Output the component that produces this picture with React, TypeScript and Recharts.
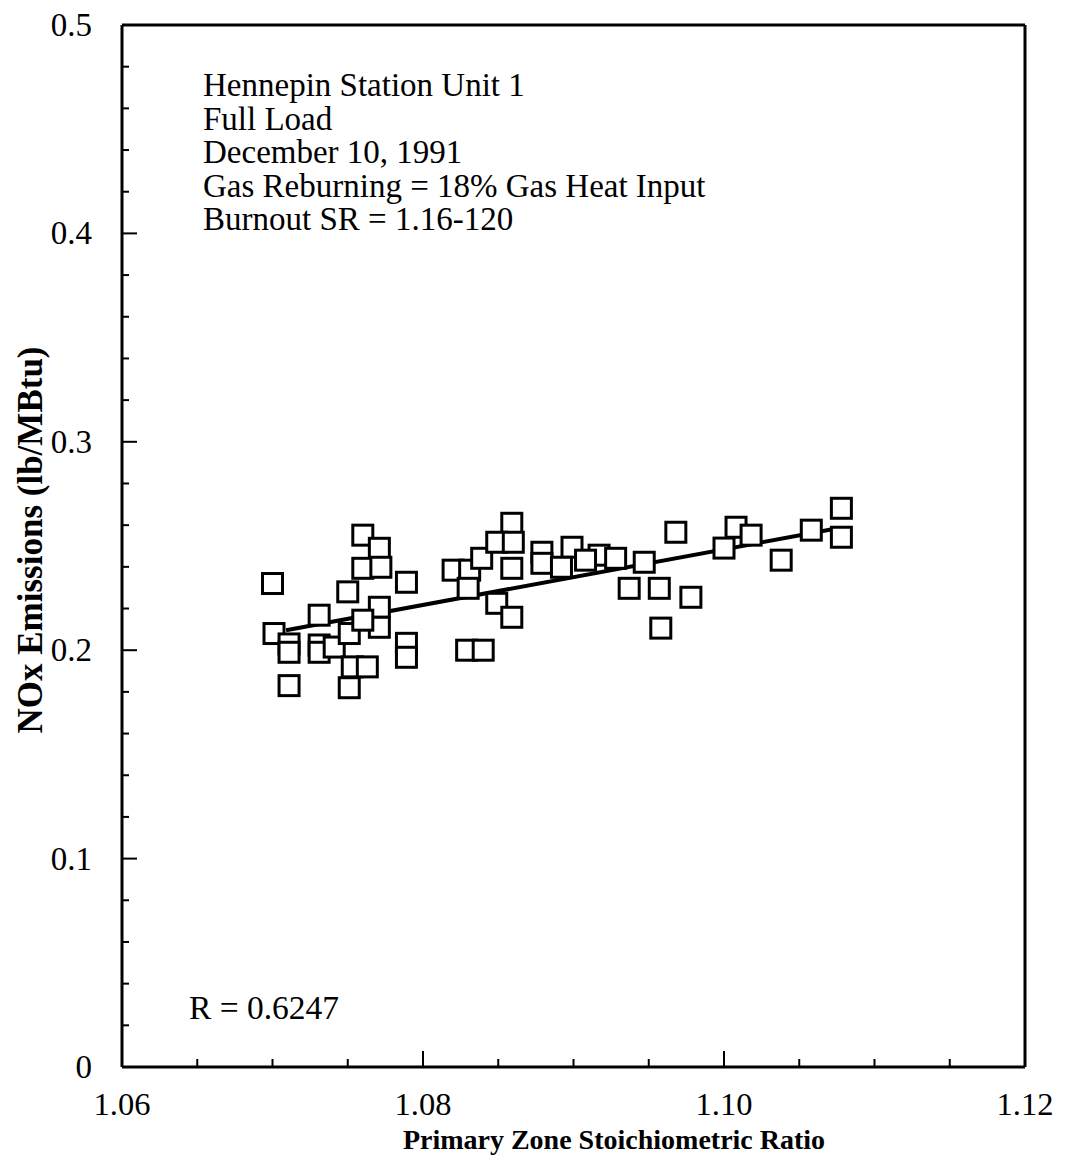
import React from "react"
import { ScatterChart, Scatter, XAxis, YAxis, ReferenceLine, Label } from "recharts"

// primary zone stoichiometric ratio (x) and NOx emissions lb/MBtu (y)
const stoichRatio = [
  1.07, 1.0701, 1.0711, 1.0711, 1.0731, 1.0731, 1.0741, 1.0751, 1.0753, 1.0763,
  1.0751, 1.0711, 1.075, 1.076, 1.0771, 1.076, 1.0772, 1.0771, 1.0771, 1.076,
  1.0731, 1.0789, 1.0789, 1.0789, 1.082, 1.0831, 1.083, 1.0839, 1.0859, 1.0849,
  1.086, 1.0859, 1.0879, 1.0879, 1.0849, 1.0859, 1.0829, 1.084, 1.0899, 1.0917,
  1.0892, 1.0908, 1.0928, 1.0947, 1.0968, 1.0937, 1.0957, 1.0978, 1.0958, 1.1,
  1.1008, 1.1018, 1.1038, 1.1058, 1.1078, 1.1078,
]
const noxEmission = [
  0.232, 0.208, 0.203, 0.199, 0.2025, 0.199, 0.2015, 0.208, 0.192, 0.192,
  0.182, 0.183, 0.228, 0.2552, 0.2489, 0.2393, 0.2398, 0.2206, 0.211, 0.2144,
  0.2168, 0.2326, 0.2033, 0.1966, 0.2384, 0.2384, 0.2297, 0.2441, 0.2609, 0.2518,
  0.2518, 0.2393, 0.247, 0.2417, 0.2225, 0.2158, 0.2, 0.2, 0.2494, 0.2456,
  0.2398, 0.2432, 0.2441, 0.2422, 0.2566, 0.2297, 0.2297, 0.2254, 0.2106, 0.249,
  0.259, 0.2552, 0.2432, 0.2576, 0.2681, 0.2542,
]

// linear fit endpoints
const fitRatio = [1.0709, 1.1072]
const fitNox = [0.2096, 0.258]

const xTicks = [1.06, 1.065, 1.07, 1.075, 1.08, 1.085, 1.09, 1.095, 1.1, 1.105, 1.11, 1.115, 1.12]
const xMajor = [1.06, 1.08, 1.1, 1.12]
const yTicks = [
  0, 0.02, 0.04, 0.06, 0.08, 0.1, 0.12, 0.14, 0.16, 0.18, 0.2, 0.22, 0.24,
  0.26, 0.28, 0.3, 0.32, 0.34, 0.36, 0.38, 0.4, 0.42, 0.44, 0.46, 0.48, 0.5,
]
const yMajor = [0, 0.1, 0.2, 0.3, 0.4, 0.5]

const notes = [
  "Hennepin Station Unit 1",
  "Full Load",
  "December 10, 1991",
  "Gas Reburning = 18% Gas Heat Input",
  "Burnout SR = 1.16-120",
]

const points = stoichRatio.map((x, i) => ({ x, y: noxEmission[i] }))
const fitLine = fitRatio.map((x, i) => ({ x, y: fitNox[i] }))

const FONT = "'Liberation Serif', 'Times New Roman', serif"
const isMajor = (list: number[], v: number) => list.some((m) => Math.abs(m - v) < 1e-9)

const XTick = ({ x, y, payload }: any) => {
  const major = isMajor(xMajor, payload.value)
  return (
    <g>
      <line x1={x} x2={x} y1={y} y2={y - (major ? 16 : 8)} stroke="#000" strokeWidth={2} />
      {major && (
        <text x={x} y={y + 48} textAnchor="middle" fontSize={32.5} fontFamily={FONT} fill="#000">
          {payload.value.toFixed(2)}
        </text>
      )}
    </g>
  )
}

const YTick = ({ x, y, payload }: any) => {
  const major = isMajor(yMajor, payload.value)
  const v = payload.value
  return (
    <g>
      <line x1={x} x2={x + (major ? 15 : 7)} y1={y} y2={y} stroke="#000" strokeWidth={2} />
      {major && (
        <text x={x - 30} y={y + 11} textAnchor="end" fontSize={33} fontFamily={FONT} fill="#000">
          {v === 0 ? "0" : v.toFixed(1)}
        </text>
      )}
    </g>
  )
}

const SquareMark = (props: any) => {
  const { cx, cy } = props
  if (cx == null || cy == null) return <g />
  return <rect x={cx - 10} y={cy - 10} width={20} height={20} fill="#fff" stroke="#000" strokeWidth={3} />
}

export default function App() {
  return (
    <div style={{ position: "absolute", left: 0, top: 0, width: 1065, height: 1165, background: "#fff" }}>
      <ScatterChart width={1065} height={1165} margin={{ top: 25, right: 40, bottom: 0, left: 0 }}>
        <XAxis
          type="number"
          dataKey="x"
          domain={[1.06, 1.12]}
          ticks={xTicks}
          interval={0}
          tick={<XTick />}
          tickSize={0}
          tickMargin={0}
          tickLine={false}
          axisLine={{ stroke: "#000", strokeWidth: 3 }}
          height={98}
          allowDataOverflow
        >
          <Label
            content={() => (
              <text x={614} y={1149} textAnchor="middle" fontSize={28} fontWeight="bold" fontFamily={FONT} fill="#000">
                Primary Zone Stoichiometric Ratio
              </text>
            )}
          />
        </XAxis>
        <YAxis
          type="number"
          dataKey="y"
          domain={[0, 0.5]}
          ticks={yTicks}
          interval={0}
          tick={<YTick />}
          tickSize={0}
          tickMargin={0}
          tickLine={false}
          axisLine={{ stroke: "#000", strokeWidth: 3 }}
          width={122}
          allowDataOverflow
        >
          <Label
            content={() => (
              <text
                x={30}
                y={540}
                transform="rotate(-90 30 540)"
                textAnchor="middle"
                dominantBaseline="central"
                fontSize={35}
                fontWeight="bold"
                fontFamily={FONT}
                fill="#000"
              >
                NOx Emissions (lb/MBtu)
              </text>
            )}
          />
        </YAxis>
        <ReferenceLine y={0.5} stroke="#000" strokeWidth={3} />
        <ReferenceLine x={1.12} stroke="#000" strokeWidth={3} />
        <Scatter
          data={fitLine}
          line={{ stroke: "#000", strokeWidth: 4 }}
          shape={() => <g />}
          isAnimationActive={false}
        />
        <Scatter data={points} shape={<SquareMark />} isAnimationActive={false} />
      </ScatterChart>
      <div
        style={{
          position: "absolute",
          left: 203,
          top: 69,
          fontFamily: FONT,
          fontSize: 33,
          lineHeight: "33.5px",
          color: "#000",
          whiteSpace: "pre",
        }}
      >
        {notes.map((n) => (
          <div key={n}>{n}</div>
        ))}
      </div>
      <div
        style={{
          position: "absolute",
          left: 189,
          top: 990,
          fontFamily: FONT,
          fontSize: 33.5,
          lineHeight: "36px",
          color: "#000",
        }}
      >
        R = 0.6247
      </div>
    </div>
  )
}
